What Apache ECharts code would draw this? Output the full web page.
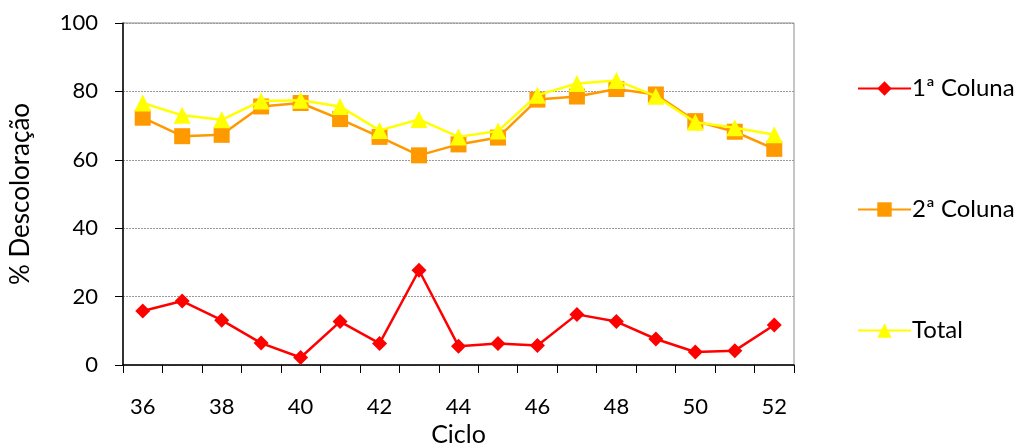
<!DOCTYPE html>
<html>
<head>
<meta charset="utf-8">
<script src="https://cdn.jsdelivr.net/npm/echarts@6/dist/echarts.min.js"></script>
<style>
  html, body { margin: 0; padding: 0; background: #fff; }
  #chart { width: 1023px; height: 448px; }
</style>
</head>
<body>
<div id="chart"></div>
<script>
// Discoloration (%) per cycle for each column and the total
const ciclos = ['36','37','38','39','40','41','42','43','44','45','46','47','48','49','50','51','52'];
const coluna1 = [15.8, 18.7, 13.1, 6.4, 2.2, 12.7, 6.3, 27.7, 5.5, 6.3, 5.7, 14.8, 12.7, 7.6, 3.8, 4.2, 11.7];
const coluna2 = [72.3, 66.9, 67.3, 75.6, 76.6, 71.9, 66.7, 61.3, 64.5, 66.5, 77.6, 78.5, 80.7, 79.1, 71.3, 68.2, 63.2];
const total   = [76.6, 73.0, 71.7, 77.2, 77.4, 75.6, 68.6, 71.8, 66.7, 68.4, 78.9, 82.3, 83.2, 78.6, 71.0, 69.4, 67.3];
const yTicks  = [0, 20, 40, 60, 80, 100];

const FONT = 'Lato, "Open Sans", sans-serif';

const chart = echarts.init(document.getElementById('chart'), null, { renderer: 'canvas' });

chart.setOption({
  animation: false,
  backgroundColor: '#ffffff',
  textStyle: { fontFamily: FONT },
  grid: {
    left: 123, top: 23, right: 229, bottom: 83,
    outerBoundsMode: 'none',
    containLabel: false,
    show: true, borderColor: '#8c8c8c', borderWidth: 1, backgroundColor: 'transparent'
  },
  legend: {
    orient: 'vertical',
    left: 852,
    top: 71,
    itemWidth: 53,
    itemHeight: 18,
    itemGap: 96,
    textStyle: { fontSize: 24, color: '#000', fontFamily: FONT, lineHeight: 25, padding: [0, 0, 0, -4] },
    data: ['1ª Coluna', '2ª Coluna', 'Total']
  },
  xAxis: {
    type: 'category',
    data: ciclos,
    boundaryGap: true,
    name: 'Ciclo',
    nameLocation: 'middle',
    nameGap: 57,
    nameTextStyle: { fontSize: 25, color: '#000', fontFamily: FONT },
    axisLine: { lineStyle: { color: '#000', width: 1.5 } },
    axisTick: { show: true, interval: 0, length: 8, lineStyle: { color: '#000' } },
    axisLabel: { interval: 1, fontSize: 22, color: '#000', margin: 31, fontFamily: FONT },
    splitLine: { show: false }
  },
  yAxis: {
    type: 'value',
    min: yTicks[0],
    max: yTicks[yTicks.length - 1],
    interval: 20,
    name: '% Descoloração',
    nameLocation: 'middle',
    nameGap: 89,
    nameRotate: 90,
    nameTextStyle: { fontSize: 26, color: '#000', fontFamily: FONT },
    axisLine: { show: true, lineStyle: { color: '#000', width: 1.5 } },
    axisTick: { show: true, length: 8, inside: false, lineStyle: { color: '#000' } },
    axisLabel: { fontSize: 22, color: '#000', margin: 25, fontFamily: FONT },
    splitLine: { show: true, lineStyle: { color: '#9a9a9a', type: [2, 1], width: 1 } }
  },
  series: [
    {
      name: '1ª Coluna',
      type: 'line',
      data: coluna1,
      symbol: 'diamond',
      symbolSize: 15,
      color: '#ff0000',
      lineStyle: { color: '#ff0000', width: 2.5 },
      itemStyle: { color: '#ff0000' },
      z: 4
    },
    {
      name: '2ª Coluna',
      type: 'line',
      data: coluna2,
      symbol: 'rect',
      symbolSize: 16,
      color: '#ff9900',
      lineStyle: { color: '#ff9900', width: 2.5 },
      itemStyle: { color: '#ff9900' },
      z: 3
    },
    {
      name: 'Total',
      type: 'line',
      data: total,
      symbol: 'triangle',
      symbolSize: 17,
      color: '#ffff00',
      lineStyle: { color: '#ffff00', width: 2.5 },
      itemStyle: { color: '#ffff00' },
      z: 5
    }
  ]
});
</script>
</body>
</html>
